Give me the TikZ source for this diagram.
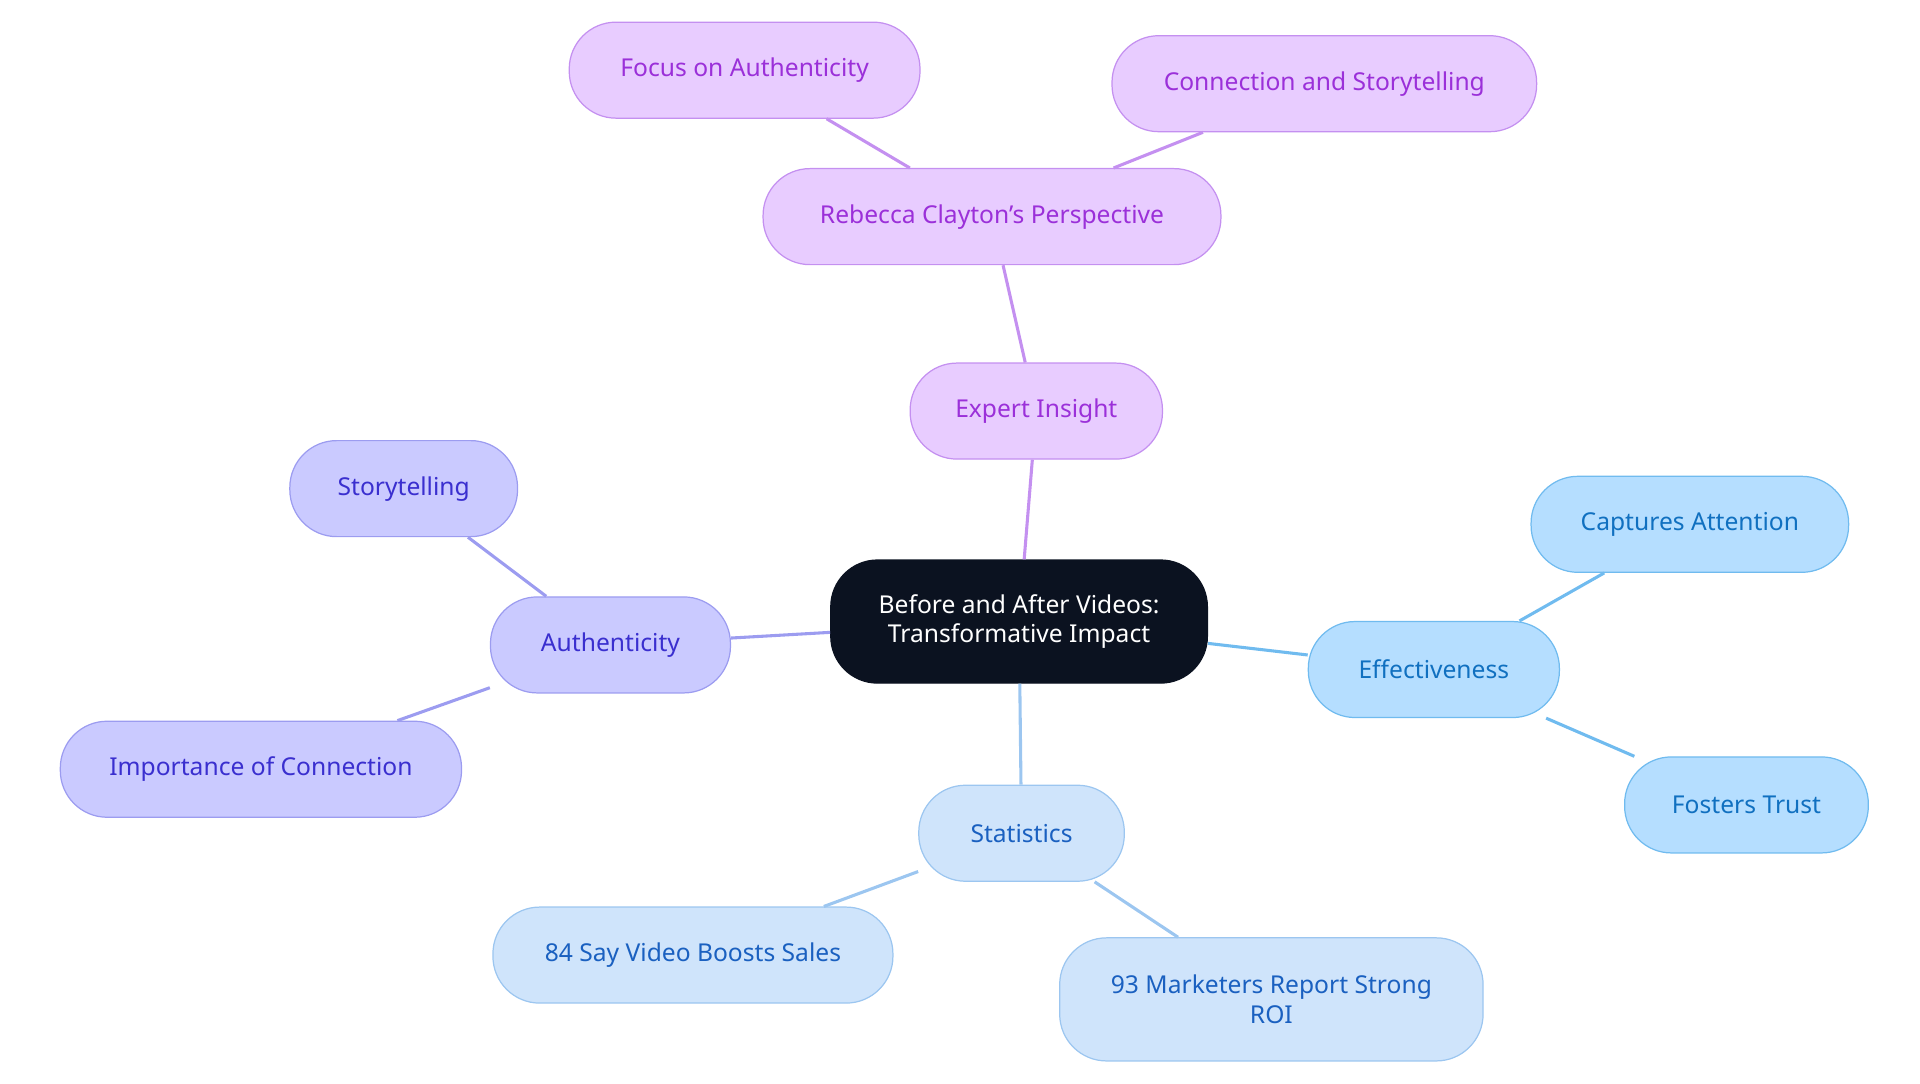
\documentclass[tikz,border=0pt]{standalone}
\usepackage{fontspec}
\setmainfont{Noto Sans}
\definecolor{cdark}{HTML}{0B1220}
\definecolor{pf}{HTML}{E8CCFF}\definecolor{pd}{HTML}{C490F0}\definecolor{pt}{HTML}{9B30D9}
\definecolor{vf}{HTML}{CACAFF}\definecolor{vd}{HTML}{9C9CF0}\definecolor{vt}{HTML}{3A2FCF}
\definecolor{bf}{HTML}{B5DEFF}\definecolor{bd}{HTML}{70BBEF}\definecolor{bt}{HTML}{1070C0}
\definecolor{sf}{HTML}{CFE4FB}\definecolor{sd}{HTML}{9CC6F0}\definecolor{st}{HTML}{1A60C0}
\begin{document}
\begin{tikzpicture}[x=1pt,y=-1pt,
 base/.style={rounded corners=38pt,minimum height=78pt,font=\fontsize{20}{24}\selectfont,align=center,inner sep=0pt,line width=1pt},
 P/.style={base,fill=pf,draw=pd,text=pt},
 V/.style={base,fill=vf,draw=vd,text=vt},
 B/.style={base,fill=bf,draw=bd,text=bt},
 S/.style={base,fill=sf,draw=sd,text=st},
 lk/.style={line width=2.5pt}]
\useasboundingbox (0,0) rectangle (1560,880);
\node[base,fill=cdark,draw=cdark,text=white,minimum width=306pt,minimum height=100pt] (c) at (828,505) {Before and After Videos:\\Transformative Impact};
\node[P,minimum width=205pt] (ei) at (842,334) {Expert Insight};
\node[P,minimum width=372pt] (rc) at (806,176) {Rebecca Clayton's Perspective};
\node[P,minimum width=285pt] (fa) at (605,57) {Focus on Authenticity};
\node[P,minimum width=345pt] (cs) at (1076,68) {Connection and Storytelling};
\node[V,minimum width=195pt] (au) at (496,524) {Authenticity};
\node[V,minimum width=185pt] (sto) at (328,397) {Storytelling};
\node[V,minimum width=326pt] (ic) at (212,625) {Importance of Connection};
\node[B,minimum width=204pt] (ef) at (1165,544) {Effectiveness};
\node[B,minimum width=258pt] (ca) at (1373,426) {Captures Attention};
\node[B,minimum width=198pt] (ft) at (1419,654) {Fosters Trust};
\node[S,minimum width=167pt] (st) at (830,677) {Statistics};
\node[S,minimum width=325pt] (s84) at (563,776) {84 Say Video Boosts Sales};
\node[S,minimum width=344pt,minimum height=100pt] (s93) at (1033,812) {93 Marketers Report Strong\\ROI};
\draw[lk,pd] (c) -- (ei); \draw[lk,pd] (ei) -- (rc); \draw[lk,pd] (rc) -- (fa); \draw[lk,pd] (rc) -- (cs);
\draw[lk,vd] (c) -- (au); \draw[lk,vd] (au) -- (sto); \draw[lk,vd] (au) -- (ic);
\draw[lk,bd] (c) -- (ef); \draw[lk,bd] (ef) -- (ca); \draw[lk,bd] (ef) -- (ft);
\draw[lk,sd] (c) -- (st); \draw[lk,sd] (st) -- (s84); \draw[lk,sd] (st) -- (s93);
\end{tikzpicture}
\end{document}
